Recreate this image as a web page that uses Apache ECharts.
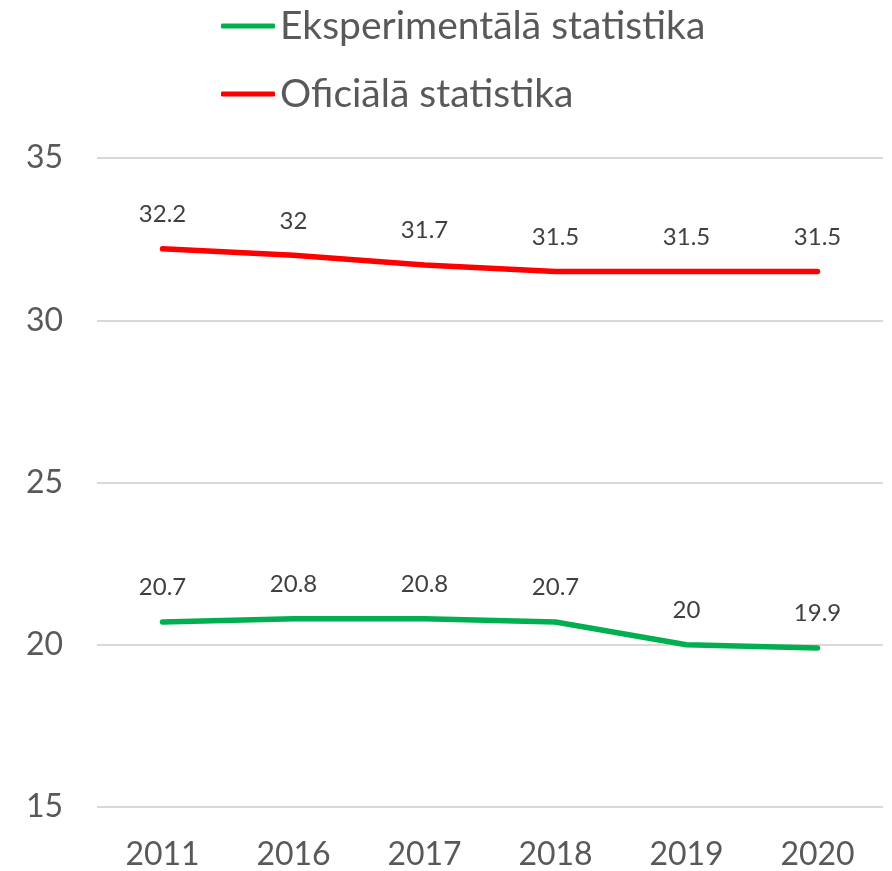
<!DOCTYPE html>
<html>
<head>
<meta charset="utf-8">
<script src="https://cdn.jsdelivr.net/npm/echarts@6/dist/echarts.min.js"></script>
<style>
  html, body { margin: 0; padding: 0; background: #fff; }
  #chart { width: 892px; height: 871px; }
</style>
</head>
<body>
<div id="chart"></div>
<script>
  // gadi uz x ass
  const years = ['2011', '2016', '2017', '2018', '2019', '2020']
  // sēriju vērtības
  const experimental = [20.7, 20.8, 20.8, 20.7, 20.0, 19.9]
  const official = [32.2, 32.0, 31.7, 31.5, 31.5, 31.5]
  const seriesNames = ['Eksperimentālā statistika', 'Oficiālā statistika']
  const seriesColors = ['#00B050', '#FF0000']

  const font = 'Lato, "Open Sans", sans-serif'
  const chart = echarts.init(document.getElementById('chart'))

  const makeSeries = (name, data, color) => {
    return {
      name: name,
      type: 'line',
      data: data,
      symbol: 'circle',
      symbolSize: 1,
      itemStyle: { color: 'rgba(0,0,0,0)' },
      lineStyle: { color: color, width: 5.5, cap: 'round' },
      label: {
        show: true,
        position: 'top',
        distance: 22,
        color: '#404040',
        fontFamily: font,
        fontSize: 24
      },
      emphasis: { disabled: true }
    }
  }

  const option = {
    animation: false,
    legend: {
      orient: 'vertical',
      left: 216,
      top: -1,
      itemGap: 24,
      itemWidth: 54,
      itemHeight: 5,
      icon: 'roundRect',
      textStyle: { color: '#595959', fontFamily: font, fontSize: 39, lineHeight: 44 },
      data: seriesNames.map((n, i) => ({ name: n, itemStyle: { color: seriesColors[i], opacity: 1 } }))
    },
    grid: { left: 97, right: 9, top: 158, bottom: 64 },
    xAxis: {
      type: 'category',
      data: years,
      boundaryGap: true,
      axisLine: { show: false },
      axisTick: { show: false },
      axisLabel: { color: '#595959', fontFamily: font, fontSize: 32, margin: 32 }
    },
    yAxis: {
      type: 'value',
      min: 15,
      max: 35,
      interval: 5,
      axisLine: { show: false },
      axisTick: { show: false },
      splitLine: { lineStyle: { color: '#D9D9D9', width: 2 } },
      axisLabel: { color: '#595959', fontFamily: font, fontSize: 32, margin: 34 }
    },
    series: [
      makeSeries(seriesNames[0], experimental, seriesColors[0]),
      makeSeries(seriesNames[1], official, seriesColors[1])
    ]
  }
  chart.setOption(option)
</script>
</body>
</html>
